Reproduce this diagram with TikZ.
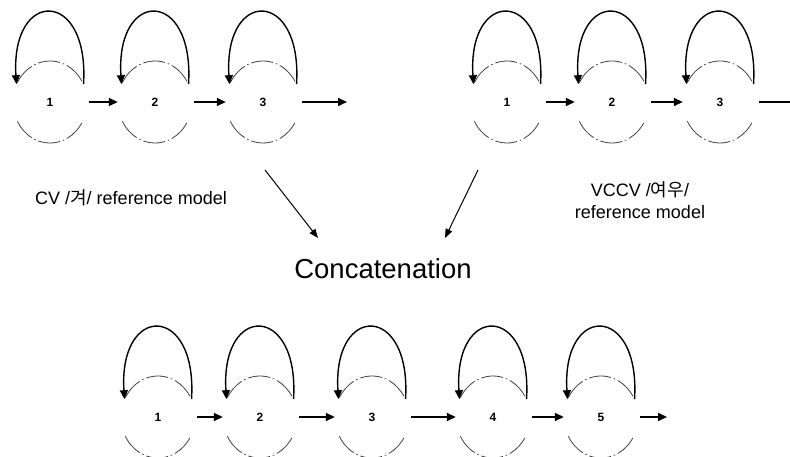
\documentclass[tikz,border=0pt]{standalone}
\usepackage{fontspec}
\setmainfont{Liberation Sans}
\newfontfamily\krfont{Noto Sans CJK KR}
\usetikzlibrary{arrows.meta,shapes.geometric}
\tikzset{
  stnode/.style={ellipse, minimum width=74pt, minimum height=82pt, inner sep=0pt,
    font=\fontsize{12}{12}\selectfont\bfseries},
  ringline/.style={draw=black!75, line width=0.8pt, dash pattern=on 22pt off 3pt on 1.5pt off 3pt},
  loopline/.style={line width=1.4pt, -{Triangle[length=9pt,width=8pt]}},
  edgeline/.style={line width=1.6pt, -{Triangle[length=9pt,width=8pt]}, shorten <=2pt},
  thinarrow/.style={line width=1pt, -{Triangle[length=9pt,width=7pt]}},
  lbl/.style={font=\fontsize{18}{22}\selectfont, align=center, inner sep=0pt},
}
\newcommand{\ringarcs}[1]{%
  \draw[ringline] (#1.center) ++(152:37pt and 41pt) arc[start angle=152, end angle=28, x radius=37pt, y radius=41pt];
  \draw[ringline] (#1.center) ++(208:37pt and 41pt) arc[start angle=208, end angle=332, x radius=37pt, y radius=41pt];
  \draw[loopline] (#1.28) .. controls +(6,96) and +(-6,96) .. (#1.152);
}
\begin{document}
\begin{tikzpicture}[x=1pt,y=1pt]
\useasboundingbox (0,0) rectangle (790,457);
% top-left model
\node[stnode] (a1) at (50,355) {1};
\node[stnode] (a2) at (155,355) {2};
\node[stnode] (a3) at (263,355) {3};
\coordinate (aout) at (347,355);
% top-right model
\node[stnode] (b1) at (507,355) {1};
\node[stnode] (b2) at (612,355) {2};
\node[stnode] (b3) at (720,355) {3};
\coordinate (bout) at (790,355);
% bottom model
\node[stnode] (c1) at (158,40) {1};
\node[stnode] (c2) at (260,40) {2};
\node[stnode] (c3) at (372,40) {3};
\node[stnode] (c4) at (493,40) {4};
\node[stnode] (c5) at (601,40) {5};
\coordinate (cout) at (667,40);
\foreach \n in {a1,a2,a3,b1,b2,b3,c1,c2,c3,c4,c5}{\ringarcs{\n}}
% transitions
\draw[edgeline] (a1) -- (a2);
\draw[edgeline] (a2) -- (a3);
\draw[edgeline] (a3) -- (aout);
\draw[edgeline] (b1) -- (b2);
\draw[edgeline] (b2) -- (b3);
\draw[line width=1.6pt, shorten <=2pt] (b3) -- (bout);
\draw[edgeline] (c1) -- (c2);
\draw[edgeline] (c2) -- (c3);
\draw[edgeline] (c3) -- (c4);
\draw[edgeline] (c4) -- (c5);
\draw[edgeline] (c5) -- (cout);
% labels
\node[lbl] (cvl) at (131,259) {CV /{\krfont 겨}/ reference model};
\node[lbl] (vccvl) at (640,257) {VCCV /{\krfont 여우}/\\reference model};
\node[font=\fontsize{27.5}{30}\selectfont, inner sep=0pt] (cat) at (383,188) {Concatenation};
% arrows to concatenation
\coordinate (s1) at (265,287);
\coordinate (e1) at (318,219);
\coordinate (s2) at (478,287);
\coordinate (e2) at (445,219);
\draw[thinarrow] (s1) -- (e1);
\draw[thinarrow] (s2) -- (e2);
\end{tikzpicture}
\end{document}
